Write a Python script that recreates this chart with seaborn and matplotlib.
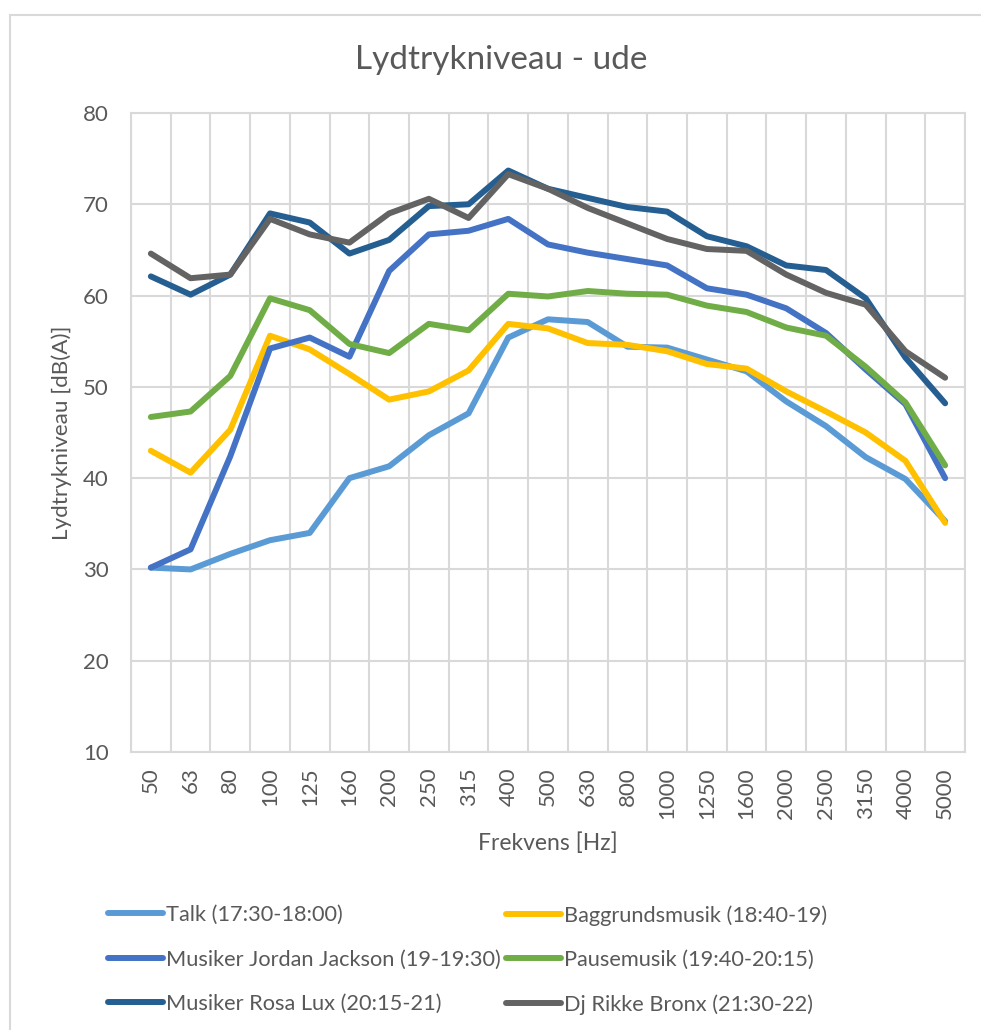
import matplotlib
matplotlib.use("Agg")
import matplotlib.pyplot as plt
from matplotlib.lines import Line2D
import seaborn as sns
import pandas as pd
import numpy as np

# ---------------- data ----------------
freqs = ["50", "63", "80", "100", "125", "160", "200", "250", "315", "400", "500",
         "630", "800", "1000", "1250", "1600", "2000", "2500", "3150", "4000", "5000"]

talk = [30.2, 30.0, 31.7, 33.2, 34.0, 40.0, 41.3, 44.7, 47.1, 55.4, 57.4,
        57.1, 54.4, 54.3, 53.0, 51.7, 48.4, 45.7, 42.3, 39.9, 35.3]
baggrund = [43.0, 40.6, 45.3, 55.6, 54.1, 51.4, 48.6, 49.5, 51.8, 56.9, 56.4,
            54.8, 54.6, 53.9, 52.5, 52.0, 49.5, 47.3, 45.0, 41.9, 35.1]
jordan = [30.2, 32.2, 42.4, 54.2, 55.4, 53.3, 62.7, 66.7, 67.1, 68.4, 65.6,
          64.7, 64.0, 63.3, 60.8, 60.1, 58.6, 55.9, 51.9, 48.1, 40.0]
pause = [46.7, 47.3, 51.2, 59.7, 58.4, 54.7, 53.7, 56.9, 56.2, 60.2, 59.9,
         60.5, 60.2, 60.1, 58.9, 58.2, 56.5, 55.6, 52.2, 48.3, 41.4]
rosa = [62.1, 60.1, 62.3, 69.0, 68.0, 64.6, 66.1, 69.8, 70.0, 73.7, 71.7,
        70.7, 69.7, 69.2, 66.5, 65.4, 63.3, 62.8, 59.7, 53.2, 48.2]
dj = [64.6, 61.9, 62.3, 68.4, 66.7, 65.8, 69.0, 70.6, 68.5, 73.3, 71.7,
      69.6, 67.9, 66.2, 65.1, 64.9, 62.3, 60.3, 59.0, 53.9, 51.0]

series_names = ["Talk (17:30-18:00)", "Baggrundsmusik (18:40-19)",
                "Musiker Jordan Jackson (19-19:30)", "Pausemusik (19:40-20:15)",
                "Musiker Rosa Lux (20:15-21)", "Dj Rikke Bronx (21:30-22)"]
series_values = [talk, baggrund, jordan, pause, rosa, dj]
colors = ["#5B9BD5", "#FFC000", "#4472C4", "#70AD47", "#255E91", "#636363"]

yticks = [10, 20, 30, 40, 50, 60, 70, 80]

title = "Lydtrykniveau - ude"
xlabel = "Frekvens [Hz]"
ylabel = "Lydtrykniveau [dB(A)]"

# ---------------- build frame ----------------
rows = []
for name, vals in zip(series_names, series_values):
    for f, v in zip(freqs, vals):
        rows.append({"Frekvens": f, "dB": v, "Serie": name})
df = pd.DataFrame(rows)

sns.set_theme(style="white")
plt.rcParams["font.family"] = ["Lato", "DejaVu Sans"]

W, H = 981, 1030
fig = plt.figure(figsize=(W / 100, H / 100), dpi=100)
fig.patch.set_facecolor("white")

TXT = "#595959"
GRID = "#D9D9D9"

# chart area border (left + top visible)
fig.add_artist(Line2D([10 / W, 10 / W], [0, 1 - 15 / H], transform=fig.transFigure,
                      color=GRID, lw=1.5))
fig.add_artist(Line2D([10 / W, 1.01], [1 - 15 / H, 1 - 15 / H], transform=fig.transFigure,
                      color=GRID, lw=1.5))

left, right, top, bottom = 131, 965, 113, 752
ax = fig.add_axes([left / W, 1 - bottom / H, (right - left) / W, (bottom - top) / H])

sns.lineplot(data=df, x="Frekvens", y="dB", hue="Serie", hue_order=series_names,
             palette=colors, sort=False, linewidth=4.3, ax=ax, legend=False,
             solid_capstyle="round", solid_joinstyle="round")

n = len(freqs)
ax.set_xlim(-0.5, n - 0.5)
ax.set_ylim(10, 80)
ax.set_yticks(yticks)
ax.set_yticklabels([str(t) for t in yticks])
ax.set_xticks(range(n))
ax.set_xticklabels(freqs, rotation=90)
ax.set_xticks(np.arange(-0.5, n, 1.0), minor=True)
ax.grid(False)
ax.grid(True, which="minor", axis="x", color=GRID, lw=1.5)
ax.grid(True, which="major", axis="y", color=GRID, lw=1.5)
ax.set_axisbelow(True)
for s in ax.spines.values():
    s.set_color(GRID)
    s.set_linewidth(1.5)
ax.tick_params(axis="both", which="both", length=0, colors=TXT, labelsize=16)
ax.tick_params(axis="y", pad=16)
ax.tick_params(axis="x", pad=11)
ax.set_xlabel("")
ax.set_ylabel("")

fig.text(501 / W, 1 - 60 / H, title, ha="center", va="center", fontsize=24, color=TXT)
fig.text(548 / W, 1 - 843 / H, xlabel, ha="center", va="center", fontsize=16.5, color=TXT)
fig.text(62 / W, 1 - 433 / H, ylabel, ha="center", va="center", rotation=90,
         fontsize=16.2, color=TXT)

# legends: two columns placed separately
handles = [Line2D([], [], color=c, lw=4.3, solid_capstyle="round") for c in colors]
col1 = [0, 2, 4]
col2 = [1, 3, 5]
for idx, xpos in ((col1, 108), (col2, 506)):
    leg = fig.legend([handles[i] for i in idx], [series_names[i] for i in idx],
                     loc="upper left", bbox_to_anchor=(xpos / W, 1 - 905 / H),
                     frameon=False, fontsize=15.7, handlelength=2.5, handletextpad=0.15,
                     labelspacing=1.12, borderpad=0, borderaxespad=0)
    for t in leg.get_texts():
        t.set_color(TXT)

fig.savefig("out.png", dpi=100, facecolor="white")
